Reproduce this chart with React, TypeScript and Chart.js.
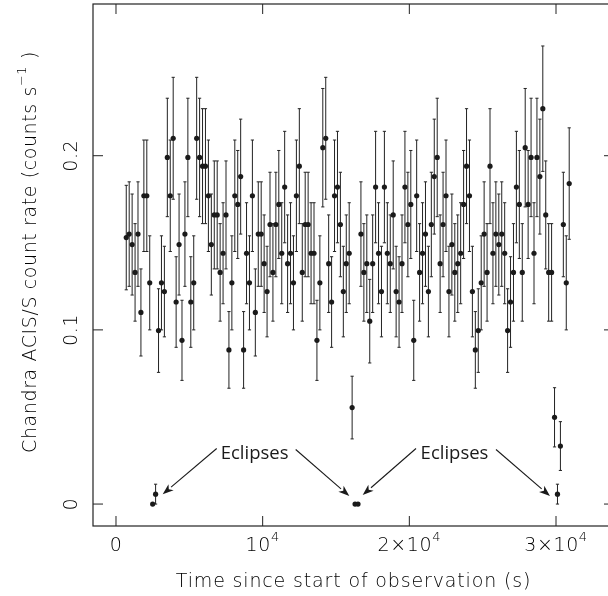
import { useEffect, useRef } from "react";
import { Chart, registerables } from "chart.js";

Chart.register(...registerables);

// Time since start of observation (s), bin centres
const times = [
  700, 900, 1100, 1300, 1500, 1700, 1900, 2100, 2300, 2500,
  2700, 2900, 3100, 3300, 3500, 3700, 3900, 4100, 4300, 4500,
  4700, 4900, 5100, 5300, 5500, 5700, 5900, 6100, 6300, 6500,
  6700, 6900, 7100, 7300, 7500, 7700, 7900, 8100, 8300, 8500,
  8700, 8900, 9100, 9300, 9500, 9700, 9900, 10100, 10300, 10500,
  10700, 10900, 11100, 11300, 11500, 11700, 11900, 12100, 12300, 12500,
  12700, 12900, 13100, 13300, 13500, 13700, 13900, 14100, 14300, 14500,
  14700, 14900, 15100, 15300, 15500, 15700, 15900, 16100, 16300, 16500,
  16700, 16900, 17100, 17300, 17500, 17700, 17900, 18100, 18300, 18500,
  18700, 18900, 19100, 19300, 19500, 19700, 19900, 20100, 20300, 20500,
  20700, 20900, 21100, 21300, 21500, 21700, 21900, 22100, 22300, 22500,
  22700, 22900, 23100, 23300, 23500, 23700, 23900, 24100, 24300, 24500,
  24700, 24900, 25100, 25300, 25500, 25700, 25900, 26100, 26300, 26500,
  26700, 26900, 27100, 27300, 27500, 27700, 27900, 28100, 28300, 28500,
  28700, 28900, 29100, 29300, 29500, 29700, 29900, 30100, 30300, 30500,
  30700, 30900,
];

// Count rate (counts/s)
const rates = [
  0.153, 0.155, 0.149, 0.133, 0.155, 0.110, 0.177, 0.177, 0.127, 0,
  0.0057, 0.0996, 0.127, 0.122, 0.199, 0.177, 0.210, 0.116, 0.149, 0.094,
  0.155, 0.199, 0.116, 0.127, 0.210, 0.199, 0.194, 0.194, 0.177, 0.149,
  0.166, 0.166, 0.133, 0.144, 0.166, 0.0885, 0.127, 0.177, 0.172, 0.188,
  0.0885, 0.144, 0.127, 0.177, 0.110, 0.155, 0.155, 0.138, 0.122, 0.1605,
  0.133, 0.1605, 0.172, 0.144, 0.182, 0.138, 0.144, 0.127, 0.177, 0.194,
  0.133, 0.1605, 0.1605, 0.144, 0.144, 0.094, 0.127, 0.2046, 0.210, 0.138,
  0.116, 0.177, 0.182, 0.1605, 0.122, 0.138, 0.144, 0.0554, 0, 0,
  0.155, 0.133, 0.138, 0.105, 0.138, 0.182, 0.144, 0.122, 0.182, 0.144,
  0.138, 0.166, 0.122, 0.116, 0.138, 0.182, 0.1605, 0.172, 0.094, 0.177,
  0.133, 0.144, 0.155, 0.122, 0.1605, 0.188, 0.199, 0.138, 0.1605, 0.177,
  0.122, 0.149, 0.133, 0.138, 0.144, 0.172, 0.194, 0.177, 0.122, 0.0885,
  0.0996, 0.127, 0.155, 0.133, 0.194, 0.144, 0.155, 0.149, 0.155, 0.144,
  0.0996, 0.116, 0.133, 0.182, 0.172, 0.133, 0.2046, 0.172, 0.199, 0.144,
  0.199, 0.188, 0.227, 0.166, 0.133, 0.133, 0.0498, 0.0057, 0.0333, 0.1605,
  0.127, 0.184,
];

// 1-sigma error on the count rate
const errors = [
  0.030, 0.030, 0.029, 0.028, 0.030, 0.025, 0.032, 0.032, 0.027, 0,
  0.0057, 0.024, 0.027, 0.026, 0.034, 0.032, 0.035, 0.026, 0.029, 0.023,
  0.030, 0.034, 0.026, 0.027, 0.035, 0.034, 0.033, 0.033, 0.032, 0.029,
  0.031, 0.031, 0.028, 0.029, 0.031, 0.022, 0.027, 0.032, 0.031, 0.033,
  0.022, 0.029, 0.027, 0.032, 0.025, 0.030, 0.030, 0.028, 0.026, 0.030,
  0.028, 0.030, 0.031, 0.029, 0.032, 0.028, 0.029, 0.027, 0.032, 0.033,
  0.028, 0.030, 0.030, 0.029, 0.029, 0.023, 0.027, 0.034, 0.035, 0.028,
  0.026, 0.032, 0.032, 0.030, 0.026, 0.028, 0.029, 0.018, 0, 0,
  0.030, 0.028, 0.028, 0.024, 0.028, 0.032, 0.029, 0.026, 0.032, 0.029,
  0.028, 0.031, 0.026, 0.026, 0.028, 0.032, 0.030, 0.031, 0.023, 0.032,
  0.028, 0.029, 0.030, 0.026, 0.030, 0.033, 0.034, 0.028, 0.030, 0.032,
  0.026, 0.029, 0.028, 0.028, 0.029, 0.031, 0.033, 0.032, 0.026, 0.022,
  0.024, 0.027, 0.030, 0.028, 0.033, 0.029, 0.030, 0.029, 0.030, 0.029,
  0.024, 0.026, 0.028, 0.032, 0.031, 0.028, 0.034, 0.031, 0.034, 0.029,
  0.034, 0.033, 0.036, 0.031, 0.028, 0.028, 0.017, 0.0057, 0.014, 0.030,
  0.027, 0.032,
];

const xTickValues = [0, 10000, 20000, 30000];
const xTickBase = ["0", "10", "2\u00d710", "3\u00d710"];
const xTickSup = ["", "4", "4", "4"];
const yTickValues = [0, 0.1, 0.2];
const yTickLabels = ["0", "0.1", "0.2"];

const xTitle = "Time since start of observation (s)";
const yTitleBase = "Chandra ACIS/S count rate (counts s";
const yTitleSup = "\u22121";
const yTitleEnd = " )";

const eclipseText = "Eclipses";
const eclipseLabelX = [9450, 23080];
const eclipseLabelY = [0.029, 0.029];
// arrows: tail (x, y) -> tip (x, y)
const arrowTailX = [6866, 12252, 20454, 25909];
const arrowTailY = [0.0319, 0.0313, 0.0319, 0.0313];
const arrowTipX = [3184, 15907, 16820, 29590];
const arrowTipY = [0.0056, 0.0046, 0.0052, 0.0046];

const AXIS_FONT_FAMILY = "'DejaVu Sans'";
const INK = "#222";

function drawSupText(
  ctx: CanvasRenderingContext2D,
  base: string,
  sup: string,
  end: string,
  cx: number,
  cy: number,
  size: number,
  spacing: number
) {
  const mainFont = `200 ${size}px ${AXIS_FONT_FAMILY}`;
  const supFont = `200 ${Math.round(size * 0.68)}px ${AXIS_FONT_FAMILY}`;
  (ctx as any).letterSpacing = `${spacing}px`;
  ctx.font = mainFont;
  const wb = ctx.measureText(base).width;
  const we = ctx.measureText(end).width;
  ctx.font = supFont;
  const ws = ctx.measureText(sup).width;
  const total = wb + ws + we;
  let x = cx - total / 2;
  ctx.textBaseline = "middle";
  ctx.textAlign = "left";
  ctx.font = mainFont;
  ctx.fillText(base, x, cy);
  x += wb;
  ctx.font = supFont;
  ctx.fillText(sup, x, cy - size * 0.45);
  x += ws;
  ctx.font = mainFont;
  ctx.fillText(end, x, cy);
  (ctx as any).letterSpacing = "0px";
}

const framePlugin = {
  id: "frame",
  beforeDatasetsDraw(chart: any) {
    const ctx = chart.ctx as CanvasRenderingContext2D;
    const xs = chart.scales.x;
    const ys = chart.scales.y;
    ctx.save();
    ctx.strokeStyle = INK;
    ctx.lineWidth = 1;
    for (let i = 0; i < times.length; i++) {
      const e = errors[i];
      if (!e) continue;
      const x = xs.getPixelForValue(times[i]);
      const y1 = ys.getPixelForValue(rates[i] - e);
      const y2 = ys.getPixelForValue(rates[i] + e);
      ctx.beginPath();
      ctx.moveTo(x, y1);
      ctx.lineTo(x, y2);
      ctx.moveTo(x - 1.6, y1);
      ctx.lineTo(x + 1.6, y1);
      ctx.moveTo(x - 1.6, y2);
      ctx.lineTo(x + 1.6, y2);
      ctx.stroke();
    }
    ctx.restore();
  },
  afterDraw(chart: any) {
    const ctx = chart.ctx as CanvasRenderingContext2D;
    const xs = chart.scales.x;
    const ys = chart.scales.y;
    const a = chart.chartArea;
    ctx.save();
    ctx.strokeStyle = INK;
    ctx.lineWidth = 1.2;
    ctx.strokeRect(a.left, a.top, a.right - a.left, a.bottom - a.top);
    ctx.lineWidth = 1;
    const tl = 10;
    ctx.beginPath();
    xTickValues.forEach((v) => {
      const x = xs.getPixelForValue(v);
      ctx.moveTo(x, a.bottom);
      ctx.lineTo(x, a.bottom - tl);
      ctx.moveTo(x, a.top);
      ctx.lineTo(x, a.top + tl);
    });
    yTickValues.forEach((v) => {
      const y = ys.getPixelForValue(v);
      ctx.moveTo(a.left, y);
      ctx.lineTo(a.left + tl, y);
      ctx.moveTo(a.right, y);
      ctx.lineTo(a.right - tl, y);
    });
    ctx.stroke();

    ctx.fillStyle = "#000";
    // x tick labels
    xTickValues.forEach((v, i) => {
      const x = xs.getPixelForValue(v);
      drawSupText(ctx, xTickBase[i], xTickSup[i], "", x, a.bottom + 20, 19, 0.6);
    });
    // y tick labels (rotated)
    yTickValues.forEach((v, i) => {
      const y = ys.getPixelForValue(v);
      ctx.save();
      ctx.translate(72, y);
      ctx.rotate(-Math.PI / 2);
      drawSupText(ctx, yTickLabels[i], "", "", 0, 0, 19, 0.6);
      ctx.restore();
    });
    // axis titles
    drawSupText(ctx, xTitle, "", "", (a.left + a.right) / 2, 582, 19, 0.85);
    ctx.save();
    ctx.translate(31, 252);
    ctx.rotate(-Math.PI / 2);
    drawSupText(ctx, yTitleBase, yTitleSup, yTitleEnd, 0, 0, 19, 0.6);
    ctx.restore();

    // annotations
    ctx.fillStyle = "#1a1a1a";
    ctx.font = "18.5px 'Open Sans'";
    ctx.textAlign = "center";
    ctx.textBaseline = "middle";
    eclipseLabelX.forEach((lx, i) => {
      ctx.fillText(eclipseText, xs.getPixelForValue(lx), ys.getPixelForValue(eclipseLabelY[i]));
    });
    ctx.strokeStyle = "#1a1a1a";
    ctx.lineWidth = 1.1;
    arrowTailX.forEach((tx, i) => {
      const x0 = xs.getPixelForValue(tx);
      const y0 = ys.getPixelForValue(arrowTailY[i]);
      const x1 = xs.getPixelForValue(arrowTipX[i]);
      const y1 = ys.getPixelForValue(arrowTipY[i]);
      const ang = Math.atan2(y1 - y0, x1 - x0);
      const hl = 11;
      const hw = 4;
      const bx = x1 - hl * Math.cos(ang);
      const by = y1 - hl * Math.sin(ang);
      ctx.beginPath();
      ctx.moveTo(x0, y0);
      ctx.lineTo(bx, by);
      ctx.stroke();
      ctx.beginPath();
      ctx.moveTo(x1, y1);
      ctx.lineTo(bx - hw * Math.sin(ang), by + hw * Math.cos(ang));
      ctx.lineTo(bx + 3 * Math.cos(ang), by + 3 * Math.sin(ang));
      ctx.lineTo(bx + hw * Math.sin(ang), by - hw * Math.cos(ang));
      ctx.closePath();
      ctx.fill();
    });
    ctx.restore();
  },
};

export default function App() {
  const ref = useRef<HTMLCanvasElement | null>(null);
  useEffect(() => {
    if (!ref.current) return;
    const chart = new Chart(ref.current, {
      type: "scatter",
      data: {
        datasets: [
          {
            data: times.map((t, i) => ({ x: t, y: rates[i] })),
            pointRadius: 2.6,
            pointBackgroundColor: "#1a1a1a",
            pointBorderWidth: 0,
            showLine: false,
          },
        ],
      },
      options: {
        responsive: false,
        animation: false,
        events: [],
        layout: { padding: { left: 93, top: 3, right: 6, bottom: 70 } },
        plugins: { legend: { display: false }, tooltip: { enabled: false } },
        scales: {
          x: { type: "linear", display: false, min: -1568, max: 33954 },
          y: { type: "linear", display: false, min: -0.0126, max: 0.2871 },
        },
      },
      plugins: [framePlugin],
    });
    return () => chart.destroy();
  }, []);
  return (
    <div style={{ position: "fixed", left: 0, top: 0, width: 608, height: 596, overflow: "hidden", background: "#fff" }}>
      <canvas ref={ref} width={620} height={596} style={{ display: "block" }} />
    </div>
  );
}
